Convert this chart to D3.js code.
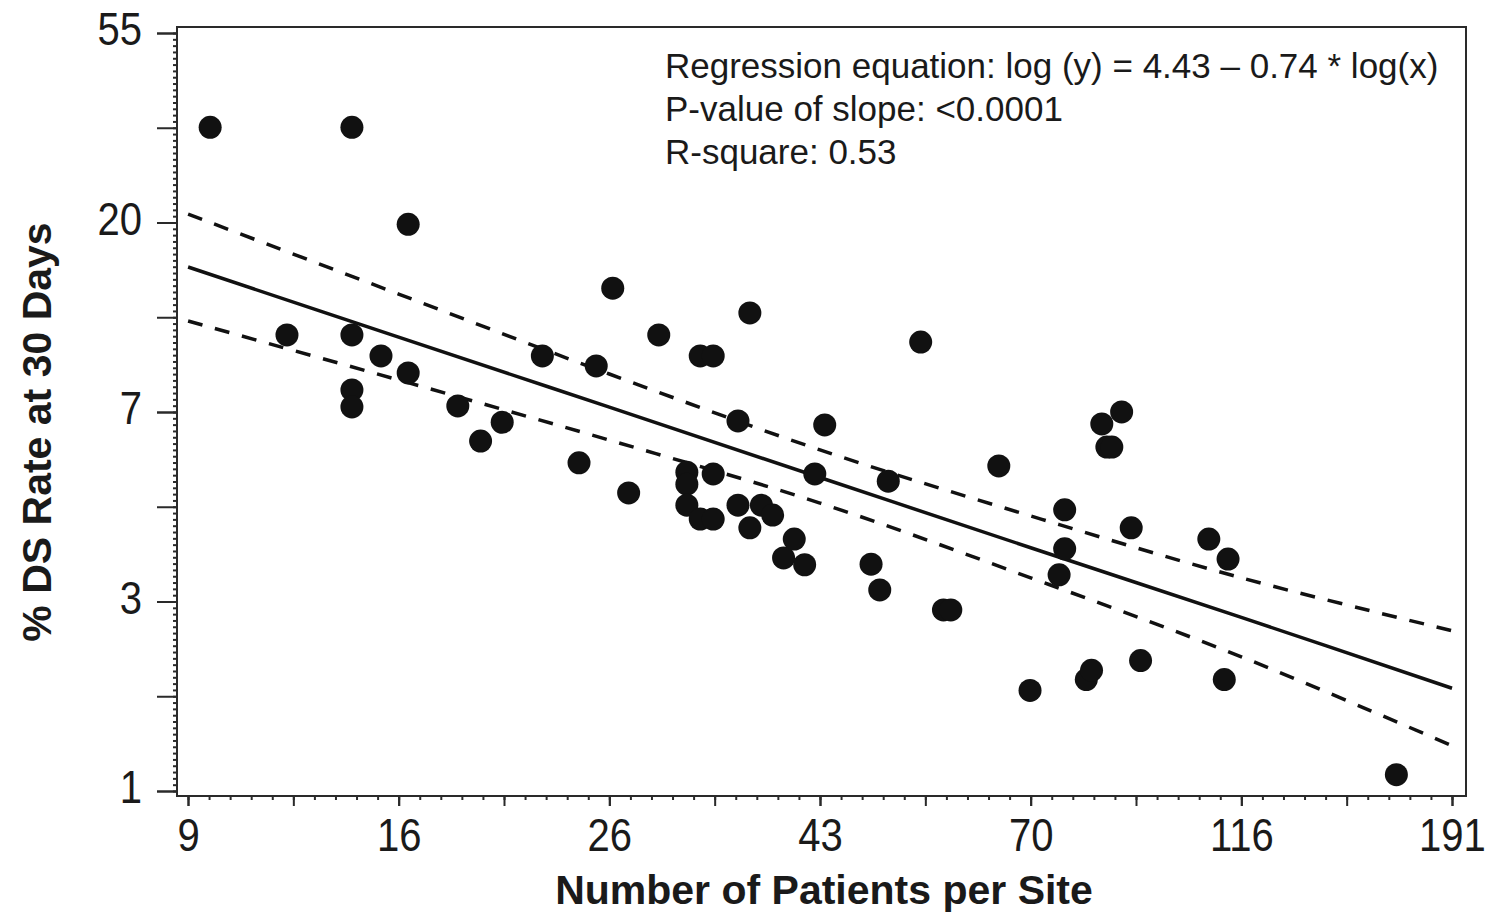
<!DOCTYPE html>
<html>
<head>
<meta charset="utf-8">
<script src="https://cdn.jsdelivr.net/npm/d3@7/dist/d3.min.js"></script>
<style>
	body { margin: 0; background: #fff; }
	text { font-family: "Liberation Sans", Arial, sans-serif; fill: #1a1a1a; }
</style>
</head>
<body>
<div id="chart"></div>
<script>
// sites: number of patients per site and % DS rate at 30 days
var patients = [10, 14, 16, 12, 14, 15, 16, 14, 14, 18,
	19, 20, 22, 25, 24, 26, 27, 29, 31, 31,
	31, 32, 33, 33, 32, 33, 35, 35, 36, 36,
	37, 38, 39, 40, 41, 42, 43, 48, 49, 50,
	54, 57, 58, 65, 70, 75, 76, 76, 80, 81,
	83, 84, 85, 87, 89, 91, 107, 111, 112, 167];
var dsRate = [33.2, 33.2, 19.9, 11.1, 11.1, 9.93, 9.08, 8.3, 7.59, 7.63,
	6.34, 7.0, 9.93, 9.42, 5.65, 14.2, 4.82, 11.1, 5.38, 5.05,
	4.52, 9.93, 9.93, 5.33, 4.2, 4.2, 7.05, 4.52, 12.46, 4.01,
	4.52, 4.29, 3.42, 3.78, 3.3, 5.33, 6.9, 3.31, 2.89, 5.13,
	10.69, 2.6, 2.6, 5.56, 1.7, 3.13, 3.59, 4.41, 1.8, 1.89,
	6.94, 6.14, 6.14, 7.39, 4.01, 1.99, 3.78, 1.8, 3.4, 1.09];

// fitted line and confidence limits, read at the labelled x ticks
var fitX = [9.49, 15.64, 25.79, 42.52, 70.11, 115.58, 190.57];
var fitLine = [15.88, 10.97, 7.58, 5.23, 3.61, 2.50, 1.72];
var upperCL = [21.0, 13.77, 9.03, 6.05, 4.27, 3.08, 2.33];
var lowerCL = [11.94, 8.75, 6.37, 4.57, 3.08, 2.03, 1.27];

var xTickLabels = ['9', '16', '26', '43', '70', '116', '191'];
var yTickLabels = ['1', '3', '7', '20', '55'];

var notes = ['Regression equation: log (y) = 4.43 \u2013 0.74 * log(x)',
	'P-value of slope: <0.0001',
	'R-square: 0.53'];

var svgWidth = 1489,
	svgHeight = 917,
	frame = {left: 177, right: 1466, top: 27, bottom: 796},
	squeeze = 0.87;

var svg = d3.select('#chart')
	.append('svg')
	.attr('width', svgWidth)
	.attr('height', svgHeight);

var x = d3.scaleLog()
	.domain([Math.exp(2.25), Math.exp(5.25)])
	.range([188, 1452]);

var y = d3.scaleLog()
	.domain([1, Math.exp(4)])
	.range([791, 33]);

// tick positions sit on even steps of ln
var xMajor = d3.range(7).map(function(i) { return Math.exp(2.25 + 0.5 * i); });
var xLong = d3.range(13).map(function(i) { return Math.exp(2.25 + 0.25 * i); });
var xMinor = d3.range(61).map(function(i) { return Math.exp(2.25 + 0.05 * i); });
var yMajor = d3.range(5).map(function(i) { return Math.exp(i); });
var yLong = d3.range(9).map(function(i) { return Math.exp(0.5 * i); });
var yMinor = d3.range(121).map(function(i) { return Math.exp(i / 30); });

// x axis
var xAxisG = svg.append('g').attr('transform', 'translate(0,' + frame.bottom + ')');
xAxisG.append('g')
	.call(d3.axisBottom(x).tickValues(xMinor).tickSize(4).tickFormat(''));
xAxisG.append('g')
	.call(d3.axisBottom(x).tickValues(xLong).tickSize(10).tickFormat(''));
xAxisG.append('g')
	.call(d3.axisBottom(x).tickValues(xMajor).tickSize(10).tickPadding(12)
		.tickFormat(function(d, i) { return xTickLabels[i]; }));

// y axis
var yAxisG = svg.append('g').attr('transform', 'translate(' + frame.left + ',0)');
yAxisG.append('g')
	.call(d3.axisLeft(y).tickValues(yMinor).tickSize(4).tickFormat(''));
yAxisG.append('g')
	.call(d3.axisLeft(y).tickValues(yLong).tickSize(20).tickFormat(''));
yAxisG.append('g')
	.call(d3.axisLeft(y).tickValues(yMajor).tickSize(20).tickPadding(15)
		.tickFormat(function(d, i) { return yTickLabels[i]; }));

svg.selectAll('.domain').remove();
svg.selectAll('.tick line')
	.attr('stroke', '#2a2a2a')
	.attr('stroke-width', 2);
svg.selectAll('.tick text')
	.attr('font-size', '46px')
	.attr('font-family', '"Liberation Sans", Arial, sans-serif')
	.attr('fill', '#1a1a1a')
	.attr('transform', 'scale(' + squeeze + ',1)');
yAxisG.selectAll('.tick text')
	.attr('x', -35 / squeeze)
	.attr('dy', '0.26em');

// frame
svg.append('rect')
	.attr('x', frame.left)
	.attr('y', frame.top)
	.attr('width', frame.right - frame.left)
	.attr('height', frame.bottom - frame.top)
	.attr('fill', 'none')
	.attr('stroke', '#2a2a2a')
	.attr('stroke-width', 2);

// regression line + confidence limits
var line = d3.line()
	.x(function(d) { return x(d[0]); })
	.y(function(d) { return y(d[1]); })
	.curve(d3.curveCatmullRom);

function pairs(vals) {
	return fitX.map(function(v, i) { return [v, vals[i]]; });
}

svg.append('path')
	.attr('d', line(pairs(fitLine)))
	.attr('fill', 'none')
	.attr('stroke', '#111')
	.attr('stroke-width', 3.5);

[upperCL, lowerCL].forEach(function(band) {
	svg.append('path')
		.attr('d', line(pairs(band)))
		.attr('fill', 'none')
		.attr('stroke', '#111')
		.attr('stroke-width', 3.5)
		.attr('stroke-dasharray', '15,13');
});

// points
svg.append('g')
	.selectAll('circle')
	.data(patients)
	.enter()
	.append('circle')
	.attr('cx', function(d) { return x(d); })
	.attr('cy', function(d, i) { return y(dsRate[i]); })
	.attr('r', 11.5)
	.attr('fill', '#111');

// annotation
svg.append('g')
	.selectAll('text')
	.data(notes)
	.enter()
	.append('text')
	.attr('x', 665)
	.attr('y', function(d, i) { return 78 + i * 43; })
	.attr('font-size', '35px')
	.text(function(d) { return d; });

// axis titles
svg.append('text')
	.attr('x', 824)
	.attr('y', 904)
	.attr('text-anchor', 'middle')
	.attr('font-size', '41px')
	.attr('font-weight', 'bold')
	.text('Number of Patients per Site');

svg.append('text')
	.attr('transform', 'translate(51,432) rotate(-90)')
	.attr('text-anchor', 'middle')
	.attr('font-size', '41px')
	.attr('font-weight', 'bold')
	.text('% DS Rate at 30 Days');
</script>
</body>
</html>
